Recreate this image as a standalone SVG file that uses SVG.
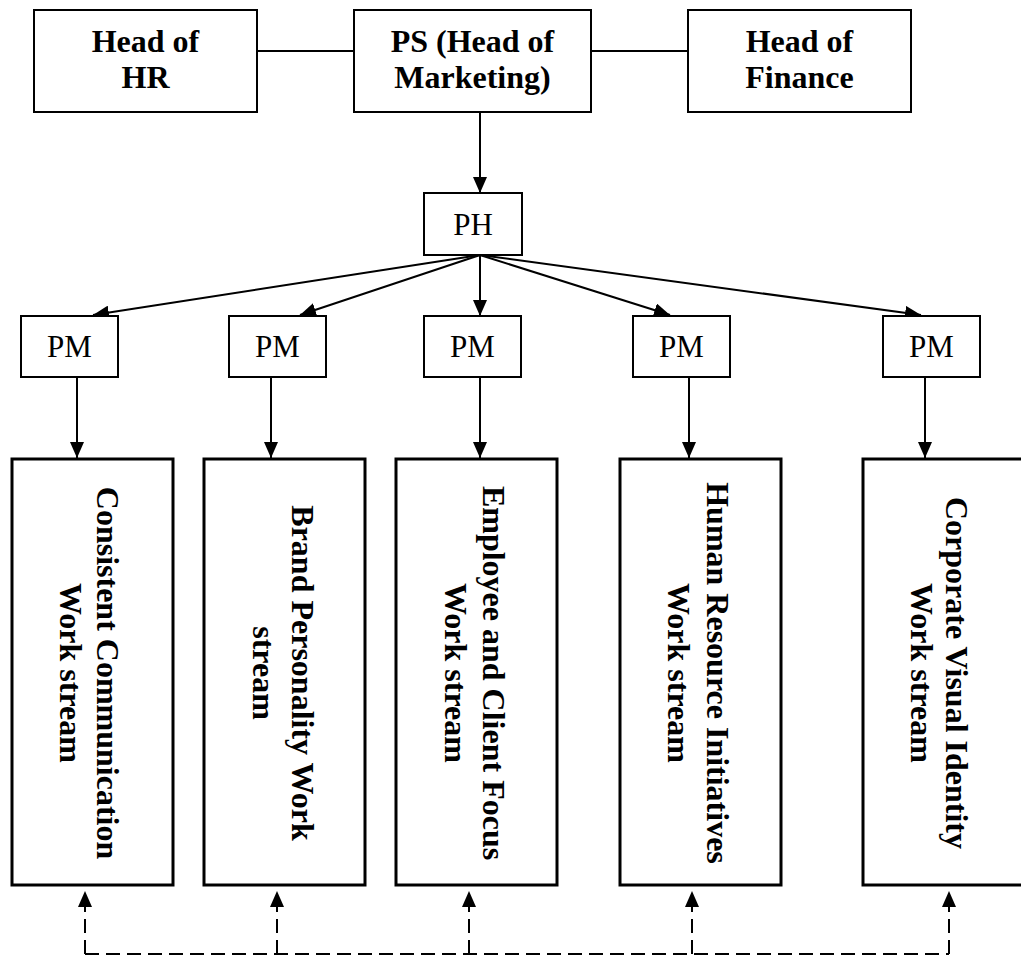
<svg xmlns="http://www.w3.org/2000/svg" width="1021" height="962" viewBox="0 0 1021 962">
  <style>
    .box { fill: #fff; stroke: #000; stroke-width: 2; }
    .ws { fill: #fff; stroke: #000; stroke-width: 3; }
    .hd { font-family: "Liberation Serif", "Times New Roman", serif; font-weight: bold; font-size: 32px; text-anchor: middle; fill: #000; }
    .lb { font-family: "Liberation Serif", "Times New Roman", serif; font-size: 31px; text-anchor: middle; fill: #000; }
    .ln { stroke: #000; stroke-width: 2; fill: none; }
    .dash { stroke: #000; stroke-width: 2; fill: none; stroke-dasharray: 14 7; }
  </style>
  <defs>
    <marker id="ah" markerWidth="16" markerHeight="14" refX="16" refY="7" orient="auto" markerUnits="userSpaceOnUse">
      <path d="M0,0 L16,7 L0,14 Z" fill="#000"/>
    </marker>
  </defs>

  <!-- connectors -->
  <g id="connectors">
    <line class="ln" x1="257" y1="51" x2="354" y2="51"/>
    <line class="ln" x1="591" y1="51" x2="688" y2="51"/>
    <line class="ln" x1="480" y1="112" x2="480" y2="193" marker-end="url(#ah)"/>
    <line class="ln" x1="480" y1="255" x2="93" y2="315" marker-end="url(#ah)"/>
    <line class="ln" x1="480" y1="255" x2="300" y2="315" marker-end="url(#ah)"/>
    <line class="ln" x1="480" y1="255" x2="480" y2="316" marker-end="url(#ah)"/>
    <line class="ln" x1="480" y1="255" x2="670" y2="315" marker-end="url(#ah)"/>
    <line class="ln" x1="480" y1="255" x2="921" y2="315" marker-end="url(#ah)"/>
    <line class="ln" x1="77" y1="377" x2="77" y2="458" marker-end="url(#ah)"/>
    <line class="ln" x1="271" y1="377" x2="271" y2="458" marker-end="url(#ah)"/>
    <line class="ln" x1="480" y1="377" x2="480" y2="458" marker-end="url(#ah)"/>
    <line class="ln" x1="689" y1="377" x2="689" y2="458" marker-end="url(#ah)"/>
    <line class="ln" x1="925" y1="377" x2="925" y2="458" marker-end="url(#ah)"/>
    <!-- dashed feedback loop -->
    <polyline class="dash" points="85,954 949,954"/>
    <line class="dash" x1="85" y1="954" x2="85" y2="891" marker-end="url(#ah)"/>
    <line class="dash" x1="277" y1="954" x2="277" y2="891" marker-end="url(#ah)"/>
    <line class="dash" x1="469" y1="954" x2="469" y2="891" marker-end="url(#ah)"/>
    <line class="dash" x1="692" y1="954" x2="692" y2="891" marker-end="url(#ah)"/>
    <line class="dash" x1="949" y1="954" x2="949" y2="891" marker-end="url(#ah)"/>
  </g>

  <!-- top row -->
  <g id="head-hr">
    <rect class="box" x="34" y="10" width="223" height="102"/>
    <text class="hd" x="145.5" y="52">Head of</text>
    <text class="hd" x="145.5" y="88">HR</text>
  </g>
  <g id="ps">
    <rect class="box" x="354" y="10" width="237" height="102"/>
    <text class="hd" x="472.5" y="52">PS (Head of</text>
    <text class="hd" x="472.5" y="88">Marketing)</text>
  </g>
  <g id="head-finance">
    <rect class="box" x="688" y="10" width="223" height="102"/>
    <text class="hd" x="799.5" y="52">Head of</text>
    <text class="hd" x="799.5" y="88">Finance</text>
  </g>

  <g id="ph">
    <rect class="box" x="424" y="193" width="98" height="62"/>
    <text class="lb" x="473" y="235">PH</text>
  </g>

  <!-- project managers -->
  <g id="pm1"><rect class="box" x="21" y="316" width="97" height="61"/><text class="lb" x="69.5" y="357">PM</text></g>
  <g id="pm2"><rect class="box" x="229" y="316" width="97" height="61"/><text class="lb" x="277.5" y="357">PM</text></g>
  <g id="pm3"><rect class="box" x="424" y="316" width="97" height="61"/><text class="lb" x="472.5" y="357">PM</text></g>
  <g id="pm4"><rect class="box" x="633" y="316" width="97" height="61"/><text class="lb" x="681.5" y="357">PM</text></g>
  <g id="pm5"><rect class="box" x="883" y="316" width="97" height="61"/><text class="lb" x="931.5" y="357">PM</text></g>

  <!-- work streams (text rotated to read top to bottom) -->
  <g id="ws1">
    <rect class="ws" x="12" y="459" width="161" height="426"/>
    <text class="hd" transform="translate(97,673) rotate(90)" x="0" y="0">Consistent Communication</text>
    <text class="hd" transform="translate(60,673) rotate(90)" x="0" y="0">Work stream</text>
  </g>
  <g id="ws2">
    <rect class="ws" x="204" y="459" width="161" height="426"/>
    <text class="hd" transform="translate(292,673) rotate(90)" x="0" y="0">Brand Personality Work</text>
    <text class="hd" transform="translate(253,673) rotate(90)" x="0" y="0">stream</text>
  </g>
  <g id="ws3">
    <rect class="ws" x="396" y="459" width="161" height="426"/>
    <text class="hd" transform="translate(483,673) rotate(90)" x="0" y="0">Employee and Client Focus</text>
    <text class="hd" transform="translate(445,673) rotate(90)" x="0" y="0">Work stream</text>
  </g>
  <g id="ws4">
    <rect class="ws" x="620" y="459" width="161" height="426"/>
    <text class="hd" transform="translate(707,673) rotate(90)" x="0" y="0">Human Resource Initiatives</text>
    <text class="hd" transform="translate(668,673) rotate(90)" x="0" y="0">Work stream</text>
  </g>
  <g id="ws5">
    <rect class="ws" x="863" y="459" width="161" height="426"/>
    <text class="hd" transform="translate(946,673) rotate(90)" x="0" y="0">Corporate Visual Identity</text>
    <text class="hd" transform="translate(911,673) rotate(90)" x="0" y="0">Work stream</text>
  </g>
</svg>
